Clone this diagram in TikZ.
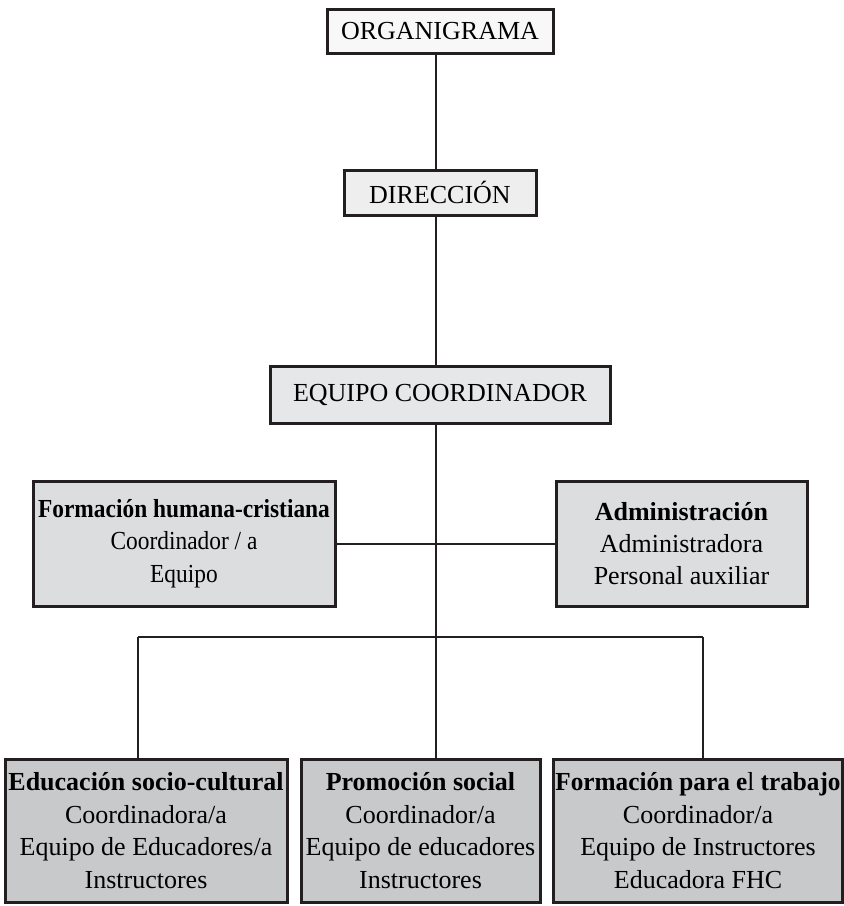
\documentclass[tikz,border=0pt]{standalone}
\usepackage{fontspec}
\usepackage{graphicx}
\setmainfont{Liberation Serif}
\usetikzlibrary{positioning,calc}
\definecolor{borde}{HTML}{231F20}
\definecolor{grisA}{HTML}{F8F8F8}
\definecolor{grisB}{HTML}{EEEEEE}
\definecolor{grisC}{HTML}{E6E7E8}
\definecolor{grisD}{HTML}{DCDDDE}
\definecolor{grisE}{HTML}{C8C9CB}
\newcommand{\estrecho}[2][0.9]{\scalebox{#1}[1]{#2}}
\tikzset{
    organig/.style={
        x=0.5pt, y=-0.5pt,
        font=\fontsize{13}{16.2}\selectfont,
        % Stile per le caselle
        caja/.style={draw=borde, line width=1.5pt, rectangle, align=center,
                     inner sep=1pt},
        % Stile per i collegamenti
        enlace/.style={draw=borde, line width=1pt}
    }
}
\begin{document}
\begin{tikzpicture}[organig]
  \useasboundingbox (0,0) rectangle (844,906);
  % Nodi
  \node[caja, fill=grisA, minimum width=113pt, minimum height=22pt] (organ) at (440,31) {ORGANIGRAMA};
  \node[caja, fill=grisB, minimum width=96pt, minimum height=22.5pt] (direc) at (440,192.5) {DIRECCIÓN};
  \node[caja, fill=grisC, minimum width=170pt, minimum height=28.5pt] (equipo) at (440,394.5) {EQUIPO COORDINADOR};
  \node[caja, fill=grisD, minimum width=151pt, minimum height=62.5pt] (fhc) at (184,543.5)
    {\estrecho{\textbf{Formación humana-cristiana}}\\\estrecho{Coordinador / a}\\\estrecho{Equipo}};
  \node[caja, fill=grisD, minimum width=125.5pt, minimum height=62.5pt] (admin) at (681.5,543.5)
    {\textbf{Administración}\\Administradora\\Personal auxiliar};
  \node[caja, fill=grisE, minimum width=141pt, minimum height=71.5pt] (educ) at (146,830.5)
    {\textbf{Educación socio-cultural}\\Coordinadora/a\\Equipo de Educadores/a\\Instructores};
  \node[caja, fill=grisE, minimum width=119.5pt, minimum height=71.5pt] (promo) at (420.5,830.5)
    {\textbf{Promoción social}\\Coordinador/a\\Equipo de educadores\\Instructores};
  \node[caja, fill=grisE, minimum width=143pt, minimum height=71.5pt] (trabajo) at (698,830.5)
    {\estrecho[0.97]{\textbf{Formación para e}l \textbf{trabajo}}\\Coordinador/a\\Equipo de Instructores\\Educadora FHC};

  \coordinate (tronco) at (436,0);
  \coordinate (bus) at (436,637);
  \coordinate (busL) at (138,637);
  \coordinate (busR) at (703,637);

  % Collegamenti
  \draw[enlace] (organ.south -| tronco) -- (direc.north -| tronco);
  \draw[enlace] (direc.south -| tronco) -- (equipo.north -| tronco);
  \draw[enlace] (equipo.south -| tronco) -- (bus);
  \draw[enlace] (fhc.east) -- (admin.west);
  \draw[enlace] (busL) -- (busR);
  \draw[enlace] (busL) -- (busL |- educ.north);
  \draw[enlace] (bus) -- (bus |- promo.north);
  \draw[enlace] (busR) -- (busR |- trabajo.north);
\end{tikzpicture}
\end{document}
